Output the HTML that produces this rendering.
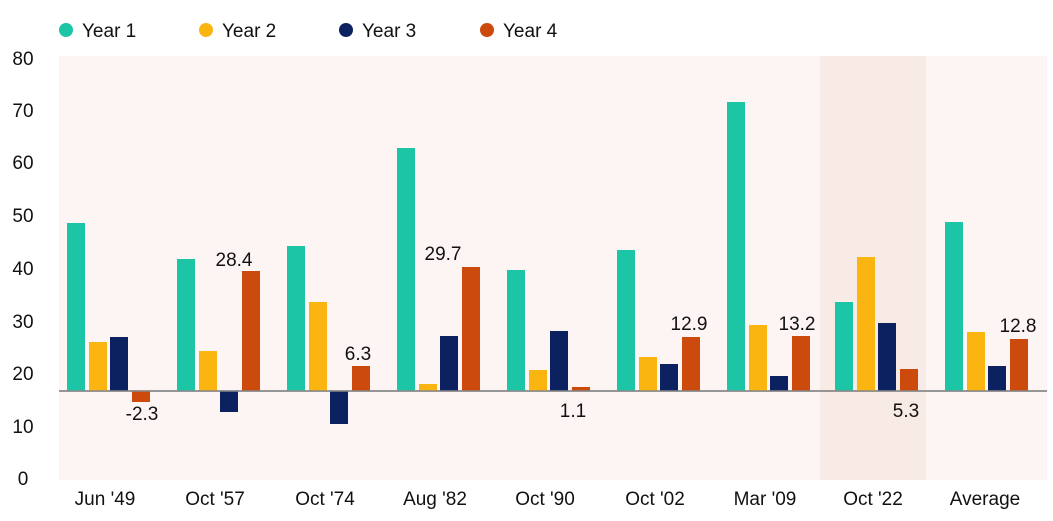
<!DOCTYPE html>
<html><head><meta charset="utf-8"><style>
body{margin:0;background:#fff;}
text{font-family:"Liberation Sans",sans-serif;fill:#111;}
</style></head><body>
<svg width="1053" height="516" viewBox="0 0 1053 516" xmlns="http://www.w3.org/2000/svg">
<rect x="59" y="56" width="988" height="424" fill="#fdf5f4"/>
<rect x="820" y="56" width="106" height="424" fill="#f8ebe6"/>
<g font-size="19">
<circle cx="66" cy="30" r="7" fill="#1cc5a6"/><text x="82" y="37">Year 1</text>
<circle cx="206" cy="30" r="7" fill="#fbb511"/><text x="222" y="37">Year 2</text>
<circle cx="346" cy="30" r="7" fill="#0b2160"/><text x="362" y="37">Year 3</text>
<circle cx="487" cy="30" r="7" fill="#cc4a0b"/><text x="503" y="37">Year 4</text>
</g>
<g font-size="19" text-anchor="middle">
<text x="23" y="65">80</text><text x="23" y="117">70</text><text x="23" y="169">60</text>
<text x="23" y="222">50</text><text x="23" y="275">40</text><text x="23" y="328">30</text>
<text x="23" y="380">20</text><text x="23" y="433">10</text><text x="23" y="485">0</text>
</g>
<g id="bars"></g>
<line x1="59" y1="391" x2="1047" y2="391" stroke="#888" stroke-width="1.5"/>
<g font-size="19" text-anchor="middle">
<text x="105" y="505">Jun '49</text><text x="215" y="505">Oct '57</text><text x="325" y="505">Oct '74</text>
<text x="435" y="505">Aug '82</text><text x="545" y="505">Oct '90</text><text x="655" y="505">Oct '02</text>
<text x="765" y="505">Mar '09</text><text x="873" y="505">Oct '22</text><text x="985" y="505">Average</text>
</g>
<g font-size="19" text-anchor="middle">
<text x="142" y="420">-2.3</text><text x="234" y="266">28.4</text><text x="358" y="360">6.3</text>
<text x="443" y="260">29.7</text><text x="573" y="417">1.1</text><text x="689" y="330">12.9</text>
<text x="797" y="330">13.2</text><text x="906" y="417">5.3</text><text x="1018" y="332">12.8</text>
</g>
<g>
<rect x="67" y="223" width="18" height="168" fill="#1cc5a6"/>
<rect x="89" y="342" width="18" height="49" fill="#fbb511"/>
<rect x="110" y="337" width="18" height="54" fill="#0b2160"/>
<rect x="132" y="391" width="18" height="11" fill="#cc4a0b"/>

<rect x="177" y="259" width="18" height="132" fill="#1cc5a6"/>
<rect x="199" y="351" width="18" height="40" fill="#fbb511"/>
<rect x="220" y="391" width="18" height="21" fill="#0b2160"/>
<rect x="242" y="271" width="18" height="120" fill="#cc4a0b"/>

<rect x="287" y="246" width="18" height="145" fill="#1cc5a6"/>
<rect x="309" y="302" width="18" height="89" fill="#fbb511"/>
<rect x="330" y="391" width="18" height="33" fill="#0b2160"/>
<rect x="352" y="366" width="18" height="25" fill="#cc4a0b"/>

<rect x="397" y="148" width="18" height="243" fill="#1cc5a6"/>
<rect x="419" y="384" width="18" height="7" fill="#fbb511"/>
<rect x="440" y="336" width="18" height="55" fill="#0b2160"/>
<rect x="462" y="267" width="18" height="124" fill="#cc4a0b"/>

<rect x="507" y="270" width="18" height="121" fill="#1cc5a6"/>
<rect x="529" y="370" width="18" height="21" fill="#fbb511"/>
<rect x="550" y="331" width="18" height="60" fill="#0b2160"/>
<rect x="572" y="387" width="18" height="4" fill="#cc4a0b"/>

<rect x="617" y="250" width="18" height="141" fill="#1cc5a6"/>
<rect x="639" y="357" width="18" height="34" fill="#fbb511"/>
<rect x="660" y="364" width="18" height="27" fill="#0b2160"/>
<rect x="682" y="337" width="18" height="54" fill="#cc4a0b"/>

<rect x="727" y="102" width="18" height="289" fill="#1cc5a6"/>
<rect x="749" y="325" width="18" height="66" fill="#fbb511"/>
<rect x="770" y="376" width="18" height="15" fill="#0b2160"/>
<rect x="792" y="336" width="18" height="55" fill="#cc4a0b"/>

<rect x="835" y="302" width="18" height="89" fill="#1cc5a6"/>
<rect x="857" y="257" width="18" height="134" fill="#fbb511"/>
<rect x="878" y="323" width="18" height="68" fill="#0b2160"/>
<rect x="900" y="369" width="18" height="22" fill="#cc4a0b"/>

<rect x="945" y="222" width="18" height="169" fill="#1cc5a6"/>
<rect x="967" y="332" width="18" height="59" fill="#fbb511"/>
<rect x="988" y="366" width="18" height="25" fill="#0b2160"/>
<rect x="1010" y="339" width="18" height="52" fill="#cc4a0b"/>
</g>
<line x1="59" y1="391" x2="1047" y2="391" stroke="#888" stroke-width="1.5"/>
</svg>
</body></html>
